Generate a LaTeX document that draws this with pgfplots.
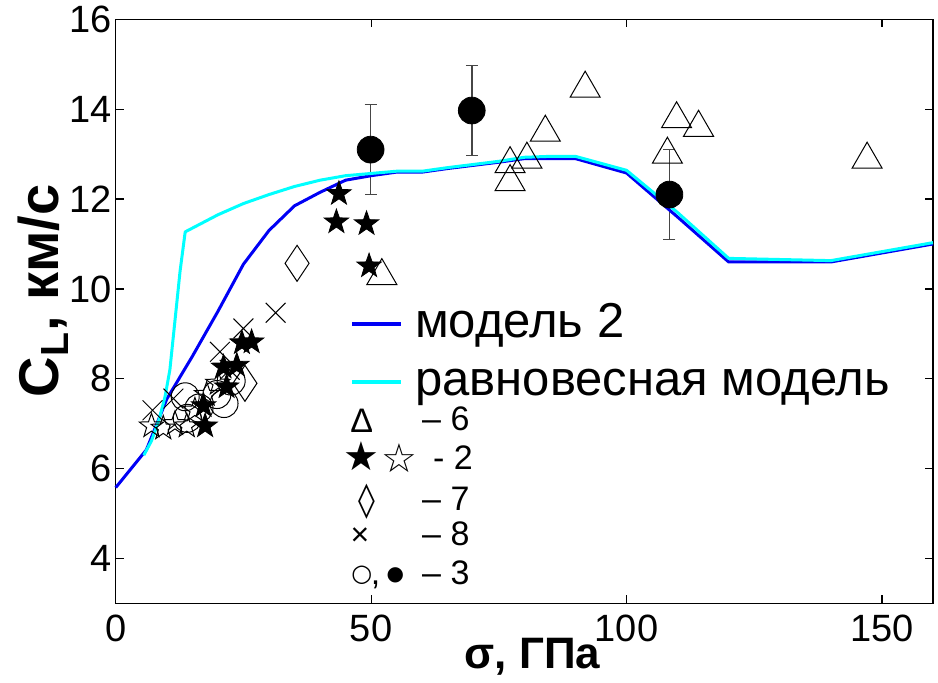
\documentclass[border=0pt]{standalone}
\usepackage{pgfplots}
\pgfplotsset{compat=1.18}
\usepackage{fontspec}
\setmainfont{Liberation Sans}
\newfontfamily\symfont{DejaVu Sans}

% five-pointed star outline
\newcommand{\fivestarpath}{%
  \pgfpathmoveto{\pgfpointpolar{90}{\pgfplotmarksize}}%
  \pgfpathlineto{\pgfpointpolar{126}{0.40\pgfplotmarksize}}%
  \pgfpathlineto{\pgfpointpolar{162}{\pgfplotmarksize}}%
  \pgfpathlineto{\pgfpointpolar{198}{0.40\pgfplotmarksize}}%
  \pgfpathlineto{\pgfpointpolar{234}{\pgfplotmarksize}}%
  \pgfpathlineto{\pgfpointpolar{270}{0.40\pgfplotmarksize}}%
  \pgfpathlineto{\pgfpointpolar{306}{\pgfplotmarksize}}%
  \pgfpathlineto{\pgfpointpolar{342}{0.40\pgfplotmarksize}}%
  \pgfpathlineto{\pgfpointpolar{18}{\pgfplotmarksize}}%
  \pgfpathlineto{\pgfpointpolar{54}{0.40\pgfplotmarksize}}%
  \pgfpathclose}
\pgfdeclareplotmark{fstar}{\fivestarpath\pgfusepathqfillstroke}
\pgfdeclareplotmark{ostar}{\fivestarpath\pgfusepathqstroke}
% tall diamond
\pgfdeclareplotmark{tdiamond}{%
  \pgfpathmoveto{\pgfpoint{0pt}{1.5\pgfplotmarksize}}%
  \pgfpathlineto{\pgfpoint{\pgfplotmarksize}{0pt}}%
  \pgfpathlineto{\pgfpoint{0pt}{-1.5\pgfplotmarksize}}%
  \pgfpathlineto{\pgfpoint{-\pgfplotmarksize}{0pt}}%
  \pgfpathclose\pgfusepathqstroke}

\definecolor{modelblue}{RGB}{0,0,245}
\definecolor{eqcyan}{RGB}{0,255,255}
\definecolor{errgray}{RGB}{70,70,70}

\begin{document}
\begin{tikzpicture}
\useasboundingbox (-57.85pt,-39.4pt) rectangle (411pt,301.65pt);
\begin{axis}[
  at={(0,0)}, anchor=south west,
  scale only axis, width=408.5pt, height=292pt,
  xmin=0, xmax=160, ymin=3, ymax=16,
  xtick={0,50,100,150}, ytick={4,6,...,16},
  tick align=inside, major tick length=4pt,
  axis line style={line width=0.6pt},
  tick style={line width=0.6pt, black},
  /pgf/number format/assume math mode=true,
  ticklabel style={font=\fontsize{19}{19}\selectfont},
  xticklabel style={anchor=north, inner sep=0pt, yshift=-5.5pt},
  yticklabel style={anchor=east, inner sep=0pt, xshift=-1.9pt},
  xlabel={σ, ГПа},
  xlabel style={font=\fontsize{22}{22}\selectfont\bfseries,
    at={(axis description cs:0.51,-0.092)}, anchor=center},
  ylabel={C\textsubscript{L}, км/с},
  ylabel style={font=\fontsize{28}{28}\selectfont\bfseries,
    at={(axis description cs:-0.089,0.535)}, anchor=center},
  clip=false,
]
% 6: triangles
\addplot[only marks, mark=triangle, mark size=8.66pt, black, line width=0.5pt]
coordinates {(91.9,14.46) (109.8,13.78) (114.1,13.59) (108.0,12.99) (147.1,12.88)
 (84.1,13.48) (80.5,12.88) (77.2,12.78) (77.2,12.38) (52.1,10.29)};
% 3: open circles
\addplot[only marks, mark=o, mark size=7pt, black, line width=0.5pt]
coordinates {(13.6,7.6) (14.0,7.12) (16.3,7.35) (19.8,7.65) (21.2,7.45) (22.6,7.95)};
% 2: open stars
\addplot[only marks, mark=ostar, mark size=6.4pt, black, line width=0.5pt]
coordinates {(7.0,6.95) (9.3,6.9) (11.6,7.0) (13.9,6.95) (15.5,7.3) (17.8,7.65) (20.0,7.9)};
% 8: crosses
\addplot[only marks, mark=x, mark size=7pt, black, line width=0.5pt]
coordinates {(7.2,7.3) (11.3,7.56) (20.4,8.6) (22.3,8.2) (25.0,9.12) (31.3,9.47)};
% 7: diamonds
\addplot[only marks, mark=tdiamond, mark size=6pt, black, line width=0.5pt]
coordinates {(35.5,10.57) (25.3,7.9)};
% 2: filled stars
\addplot[only marks, mark=fstar, mark size=6.4pt, black, fill=black, line width=0.4pt]
coordinates {(17.2,7.4) (17.5,6.95) (21.7,7.82) (21.1,8.26) (23.7,8.3) (24.7,8.8)
 (26.6,8.82) (43.7,12.12) (43.2,11.49) (49.1,11.45) (49.6,10.51)};
% 3: filled circles with error bars
\addplot[only marks, mark=*, mark size=6.7pt, black,
  error bars/.cd, y dir=both, y explicit,
  error bar style={line width=0.75pt, errgray},
  error mark options={rotate=90, mark size=3pt, line width=0.75pt, errgray}]
coordinates {(49.9,13.1) +- (0,1.0) (69.7,13.97) +- (0,1.0) (108.4,12.1) +- (0,1.0)};
% model 2
\addplot[modelblue, line width=1.5pt, mark=none] coordinates {
 (0,5.58) (6,6.42) (10,7.55) (15,8.5) (20,9.5) (25,10.55) (30,11.3) (35,11.85)
 (40,12.15) (45,12.42) (50,12.52) (55,12.6) (60,12.6) (65,12.68) (70,12.75)
 (75,12.82) (80,12.9) (85,12.9) (90,12.9) (100,12.58) (110,11.6) (120,10.6)
 (140,10.6) (160,11.0)};
% equilibrium model
\addplot[eqcyan, line width=1.5pt, mark=none, line join=round] coordinates {
 (5.5,6.3) (7,6.62) (8.5,7.1) (9.65,7.6) (10.6,8.2) (11.6,9.3) (12.6,10.4)
 (13.6,11.27) (20,11.65) (25,11.9) (30,12.1) (35,12.28) (40,12.42) (45,12.52)
 (50,12.57) (55,12.62) (60,12.62) (65,12.7) (70,12.77) (75,12.84) (80,12.93)
 (85,12.95) (90,12.95) (100,12.64) (110,11.7) (120,10.68) (140,10.63) (160,11.03)};

% line legend
\draw[modelblue, line width=2pt] (rel axis cs:0.2895,0.478) -- (rel axis cs:0.3485,0.478);
\draw[eqcyan, line width=2pt] (rel axis cs:0.2895,0.379) -- (rel axis cs:0.3485,0.379);
\node[anchor=base west, inner sep=0pt, font=\fontsize{24.5}{24.5}\selectfont]
  at (rel axis cs:0.366,0.4555) {модель 2};
\node[anchor=base west, inner sep=0pt, font=\fontsize{24.5}{24.5}\selectfont]
  at (rel axis cs:0.366,0.3566) {равновесная модель};

% marker legend
\node[inner sep=0pt, font=\fontsize{17}{17}\selectfont] at (rel axis cs:0.301,0.313) {Δ};
\node[inner sep=0pt, font=\symfont\fontsize{20}{20}\selectfont] at (rel axis cs:0.301,0.252) {★};
\node[inner sep=0pt, font=\symfont\fontsize{20}{20}\selectfont] at (rel axis cs:0.3468,0.249) {☆};
\node[inner sep=0pt, font=\symfont\fontsize{17}{17}\selectfont] at (rel axis cs:0.307,0.174) {◊};
\node[inner sep=0pt, font=\fontsize{16}{16}\selectfont] at (rel axis cs:0.299,0.114) {×};
\node[inner sep=0pt, font=\symfont\fontsize{12}{12}\selectfont] at (rel axis cs:0.301,0.0485) {○};
\node[anchor=base, inner sep=0pt, font=\fontsize{17}{17}\selectfont] at (rel axis cs:0.318,0.0331) {,};
\node[inner sep=0pt, font=\symfont\fontsize{10}{10}\selectfont] at (rel axis cs:0.342,0.0485) {●};
\node[anchor=base west, inner sep=0pt, font=\fontsize{17}{17}\selectfont] at (rel axis cs:0.3745,0.2955) {– 6};
\node[anchor=base west, inner sep=0pt, font=\fontsize{17}{17}\selectfont] at (rel axis cs:0.388,0.230) {- 2};
\node[anchor=base west, inner sep=0pt, font=\fontsize{17}{17}\selectfont] at (rel axis cs:0.3745,0.1598) {– 7};
\node[anchor=base west, inner sep=0pt, font=\fontsize{17}{17}\selectfont] at (rel axis cs:0.3745,0.0998) {– 8};
\node[anchor=base west, inner sep=0pt, font=\fontsize{17}{17}\selectfont] at (rel axis cs:0.3745,0.0331) {– 3};
\end{axis}
\end{tikzpicture}
\end{document}
